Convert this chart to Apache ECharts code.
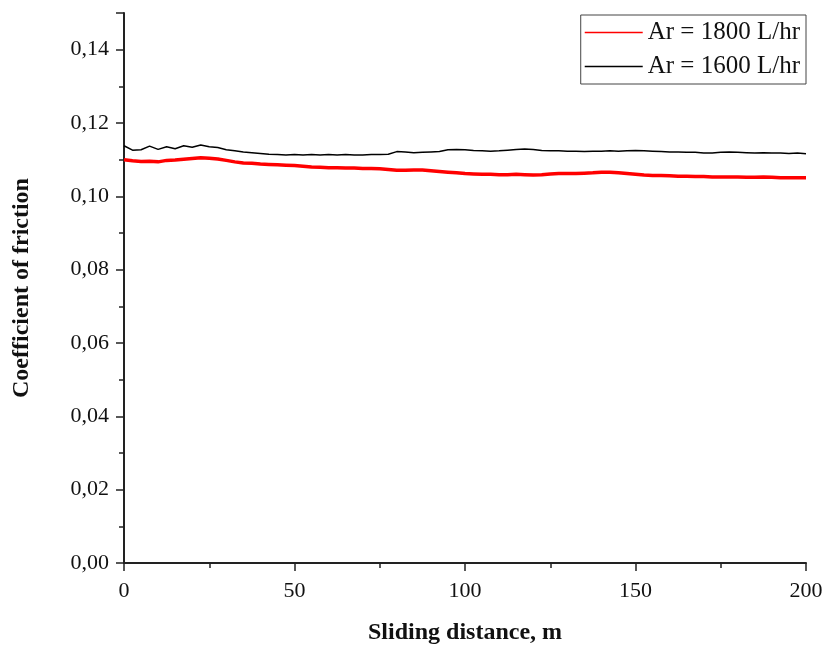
<!DOCTYPE html>
<html>
<head>
<meta charset="utf-8">
<script src="https://cdn.jsdelivr.net/npm/echarts@6/dist/echarts.min.js"></script>
<style>html,body{margin:0;padding:0;background:#fff}#c{width:824px;height:645px}</style>
</head>
<body>
<div id="c"></div>
<script>
const distance = [0,2.5,5,7.5,10,12.5,15,17.5,20,22.5,25,27.5,30,32.5,35,37.5,40,42.5,45,47.5,50,52.5,55,57.5,60,62.5,65,67.5,70,72.5,75,77.5,80,82.5,85,87.5,90,92.5,95,97.5,100,102.5,105,107.5,110,112.5,115,117.5,120,122.5,125,127.5,130,132.5,135,137.5,140,142.5,145,147.5,150,152.5,155,157.5,160,162.5,165,167.5,170,172.5,175,177.5,180,182.5,185,187.5,190,192.5,195,197.5,200];
const cof1800 = [0.1100,0.1097,0.1095,0.1096,0.1094,0.1098,0.1099,0.1101,0.1103,0.1105,0.1104,0.1102,0.1098,0.1094,0.1091,0.1090,0.1088,0.1087,0.1086,0.1085,0.1084,0.1082,0.1080,0.1079,0.1078,0.1078,0.1077,0.1077,0.1076,0.1076,0.1075,0.1073,0.1071,0.1071,0.1072,0.1072,0.1070,0.1068,0.1066,0.1064,0.1062,0.1061,0.1060,0.1060,0.1059,0.1059,0.1060,0.1059,0.1058,0.1059,0.1061,0.1062,0.1062,0.1062,0.1063,0.1064,0.1066,0.1066,0.1064,0.1062,0.1060,0.1058,0.1057,0.1057,0.1056,0.1055,0.1055,0.1054,0.1054,0.1053,0.1053,0.1053,0.1053,0.1052,0.1052,0.1053,0.1052,0.1051,0.1051,0.1051,0.1051];
const cof1600 = [0.1138,0.1126,0.1127,0.1137,0.1128,0.1135,0.1130,0.1138,0.1134,0.1140,0.1135,0.1133,0.1127,0.1124,0.1121,0.1119,0.1117,0.1115,0.1114,0.1113,0.1114,0.1113,0.1114,0.1113,0.1114,0.1113,0.1114,0.1113,0.1113,0.1114,0.1114,0.1115,0.1122,0.1121,0.1119,0.1120,0.1121,0.1122,0.1127,0.1128,0.1127,0.1125,0.1124,0.1123,0.1124,0.1126,0.1128,0.1129,0.1128,0.1125,0.1124,0.1124,0.1123,0.1123,0.1122,0.1123,0.1123,0.1124,0.1123,0.1124,0.1125,0.1124,0.1123,0.1122,0.1121,0.1121,0.1120,0.1120,0.1118,0.1118,0.1120,0.1121,0.1120,0.1119,0.1118,0.1119,0.1118,0.1118,0.1117,0.1118,0.1116];
const seriesNames = ['Ar = 1800 L/hr','Ar = 1600 L/hr'];

const FONT = '"Liberation Serif","Times New Roman",serif';
const chart = echarts.init(document.getElementById('c'), null, {renderer:'canvas'});
const axisCommon = {
  axisLine:{show:true,onZero:false,lineStyle:{color:'#222',width:2}},
  axisTick:{show:true,inside:false,length:8,lineStyle:{color:'#222',width:1.5}},
  minorTick:{show:true,splitNumber:2,length:5,lineStyle:{color:'#222',width:1.5}},
  splitLine:{show:false},
  nameTextStyle:{fontFamily:FONT,fontWeight:'bold',fontSize:24,color:'#111'}
};
chart.setOption({
  animation:false,
  backgroundColor:'#fff',
  grid:{left:124,right:18,top:13,bottom:82,containLabel:false,outerBoundsMode:'none'},
  legend:{
    data:seriesNames,
    orient:'vertical', right:18, top:15,
    backgroundColor:'#fff', borderColor:'#444', borderWidth:1,
    padding:[5,6,5,4], itemGap:9,
    icon:'rect', itemWidth:58, itemHeight:1.5,
    textStyle:{fontFamily:FONT,fontSize:25,color:'#111'}
  },
  xAxis:Object.assign({}, axisCommon, {
    type:'value', min:0, max:200, interval:50,
    name:'Sliding distance, m', nameLocation:'middle', nameGap:58,
    axisLabel:{fontFamily:FONT,fontSize:22,color:'#111',margin:17}
  }),
  yAxis:Object.assign({}, axisCommon, {
    type:'value', min:0, max:0.15, interval:0.02,
    name:'Coefficient of friction', nameLocation:'middle', nameGap:90,
    axisLabel:{fontFamily:FONT,fontSize:22,color:'#111',margin:15,showMaxLabel:false,
      formatter:v=>v.toFixed(2).replace('.',',')}
  }),
  series:[
    {name:seriesNames[0],type:'line',showSymbol:false,symbol:'none',
     data:distance.map((d,i)=>[d,cof1800[i]]),
     lineStyle:{color:'#ff0000',width:3.5},itemStyle:{color:'#ff0000'}},
    {name:seriesNames[1],type:'line',showSymbol:false,symbol:'none',
     data:distance.map((d,i)=>[d,cof1600[i]]),
     lineStyle:{color:'#000',width:1.5},itemStyle:{color:'#000'}}
  ]
});
</script>
</body>
</html>
